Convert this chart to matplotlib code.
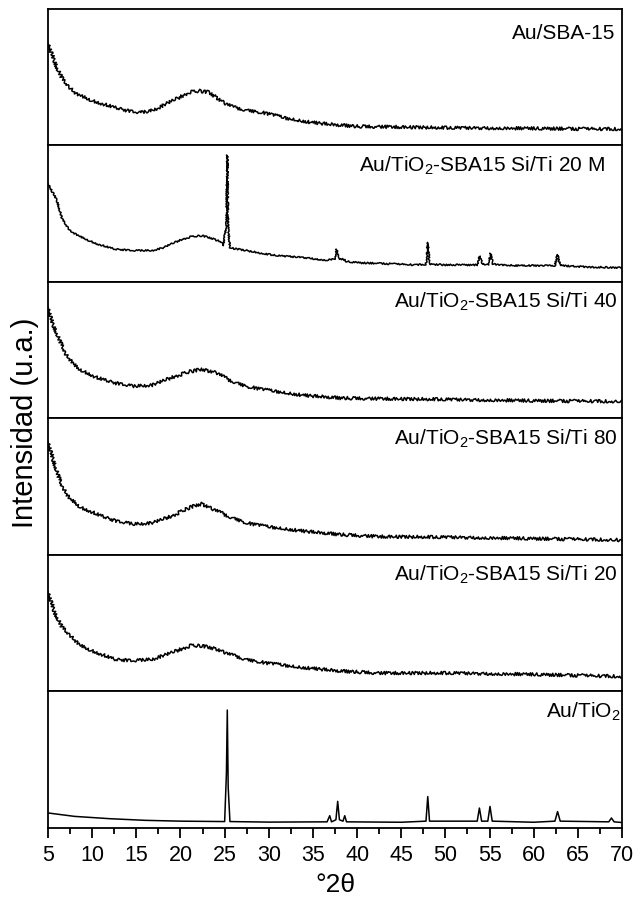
import matplotlib
matplotlib.use("Agg")
import matplotlib.pyplot as plt
from matplotlib.ticker import MultipleLocator

plt.rcParams['font.family'] = ['Liberation Sans', 'DejaVu Sans']
plt.rcParams['mathtext.default'] = 'regular'

# intensities, as fraction of each panel's height
tt_sba15 = [5.0, 5.5, 6.0, 6.7, 7.5, 8.2, 9.0, 10.0, 10.9, 12.5, 14.0, 15.4, 16.5, 17.5,
            18.5, 19.8, 21.0, 22.2, 23.2, 24.1, 25.0, 26.0, 27.5, 29.8, 32.0, 34.7, 37.0,
            40.0, 45.0, 50.0, 55.0, 60.0, 65.0, 70.0]
i_sba15 = [0.75, 0.66, 0.57, 0.48, 0.42, 0.38, 0.355, 0.33, 0.31, 0.28, 0.255, 0.24, 0.25,
           0.275, 0.31, 0.35, 0.39, 0.40, 0.39, 0.35, 0.31, 0.28, 0.26, 0.235, 0.20, 0.17,
           0.155, 0.14, 0.135, 0.13, 0.128, 0.125, 0.122, 0.12]

tt_20m = [5.0, 5.5, 6.0, 6.6, 7.5, 8.7, 10.5, 12.6, 14.7, 16.8, 18.0, 19.0, 20.1, 21.1,
          22.4, 23.5, 24.4, 24.9, 25.2, 25.3, 25.4, 25.6, 27.5, 29.6, 31.5, 33.9, 36.4,
          37.5, 37.7, 37.9, 38.5, 38.8, 40.5, 43.0, 46.7, 47.8, 48.0, 48.2, 50.0, 53.6,
          53.9, 54.2, 54.9, 55.1, 55.4, 58.0, 62.4, 62.7, 63.0, 66.0, 70.0]
i_20m = [0.72, 0.66, 0.60, 0.46, 0.375, 0.33, 0.28, 0.24, 0.23, 0.23, 0.25, 0.28, 0.31,
         0.33, 0.34, 0.32, 0.30, 0.27, 0.45, 0.93, 0.40, 0.25, 0.23, 0.205, 0.19, 0.18,
         0.16, 0.17, 0.24, 0.17, 0.165, 0.15, 0.14, 0.135, 0.125, 0.13, 0.29, 0.13, 0.125,
         0.125, 0.19, 0.13, 0.13, 0.21, 0.13, 0.12, 0.12, 0.20, 0.12, 0.11, 0.105]

tt_40 = [5.0, 5.5, 6.0, 7.0, 8.3, 10.5, 12.6, 14.7, 16.8, 19.0, 21.1, 22.4, 24.1, 25.4,
         27.5, 29.6, 33.9, 38.1, 42.4, 50.0, 60.0, 70.0]
i_40 = [0.815, 0.70, 0.62, 0.47, 0.37, 0.30, 0.26, 0.235, 0.245, 0.30, 0.345, 0.36, 0.335,
        0.285, 0.235, 0.21, 0.17, 0.15, 0.145, 0.14, 0.13, 0.125]

tt_80 = [5.0, 5.8, 6.6, 7.5, 8.7, 10.5, 12.6, 14.7, 16.8, 19.0, 21.1, 22.4, 23.7, 25.4,
         27.5, 29.6, 33.9, 38.1, 42.4, 50.9, 60.0, 70.0]
i_80 = [0.83, 0.65, 0.50, 0.41, 0.35, 0.30, 0.25, 0.225, 0.235, 0.285, 0.35, 0.375, 0.335,
        0.285, 0.235, 0.21, 0.175, 0.15, 0.135, 0.13, 0.12, 0.11]

tt_20 = [5.0, 5.8, 6.6, 7.5, 8.7, 10.5, 12.6, 14.7, 16.8, 19.0, 21.1, 22.4, 24.1, 25.4,
         27.5, 29.6, 33.9, 38.1, 42.4, 50.9, 60.0, 70.0]
i_20 = [0.73, 0.57, 0.47, 0.41, 0.335, 0.285, 0.235, 0.225, 0.235, 0.285, 0.335, 0.335,
        0.31, 0.275, 0.235, 0.21, 0.175, 0.15, 0.135, 0.135, 0.125, 0.11]

tt_tio2 = [5.0, 8.0, 12.0, 16.0, 20.0, 25.0, 25.2, 25.3, 25.4, 25.6, 30.0, 36.6, 36.9,
           37.1, 37.6, 37.8, 38.0, 38.4, 38.6, 38.8, 45.0, 47.8, 48.0, 48.2, 53.6, 53.85,
           54.1, 54.8, 55.05, 55.3, 60.0, 62.4, 62.7, 63.0, 68.5, 68.8, 69.1, 70.0]
i_tio2 = [0.11, 0.085, 0.068, 0.056, 0.05, 0.047, 0.40, 0.864, 0.30, 0.047, 0.043, 0.045,
          0.09, 0.045, 0.06, 0.195, 0.06, 0.05, 0.09, 0.045, 0.042, 0.05, 0.23, 0.05,
          0.05, 0.146, 0.05, 0.05, 0.158, 0.05, 0.042, 0.05, 0.12, 0.05, 0.045, 0.073,
          0.045, 0.04]

labels = ["Au/SBA-15",
          "Au/TiO$_2$-SBA15 Si/Ti 20 M",
          "Au/TiO$_2$-SBA15 Si/Ti 40",
          "Au/TiO$_2$-SBA15 Si/Ti 80",
          "Au/TiO$_2$-SBA15 Si/Ti 20",
          "Au/TiO$_2$"]
series = [(tt_sba15, i_sba15), (tt_20m, i_20m), (tt_40, i_40),
          (tt_80, i_80), (tt_20, i_20), (tt_tio2, i_tio2)]

label_x = [0.988, 0.97, 0.993, 0.993, 0.993, 0.997]
label_y = [0.89, 0.935, 0.935, 0.935, 0.935, 0.935]
noise = [1.6, 0.8, 1.6, 1.6, 1.6, 0.0]

fig, axes = plt.subplots(6, 1, sharex=True, figsize=(6.37, 8.99), dpi=100)
fig.subplots_adjust(left=0.0754, right=0.9765, top=0.99, bottom=0.079, hspace=0)

for k, ax in enumerate(axes):
    tt, inten = series[k]
    ln, = ax.plot(tt, inten, color='black', lw=1.1)
    if noise[k] > 0:
        ln.set_sketch_params(scale=noise[k], length=1.5, randomness=3)
    ax.set_ylim(0, 1)
    ax.set_xlim(5, 70)
    ax.set_yticks([])
    for s in ax.spines.values():
        s.set_linewidth(1.3)
    ax.text(label_x[k], label_y[k], labels[k], transform=ax.transAxes,
            ha='right', va='top', fontsize=15)
    if k < 5:
        ax.tick_params(axis='x', which='both', bottom=False, labelbottom=False)

ax = axes[-1]
ax.xaxis.set_major_locator(MultipleLocator(5))
ax.xaxis.set_minor_locator(MultipleLocator(2.5))
ax.tick_params(axis='x', which='major', direction='out', length=7.5, width=1.3,
               labelsize=15.5, pad=5)
ax.tick_params(axis='x', which='minor', direction='out', length=4, width=1.3)
ax.set_xlabel("°2θ", fontsize=19, labelpad=5)

fig.text(0.039, 0.53, "Intensidad (u.a.)", rotation=90, ha='center', va='center',
         fontsize=21)

fig.savefig("out.png", dpi=100)
